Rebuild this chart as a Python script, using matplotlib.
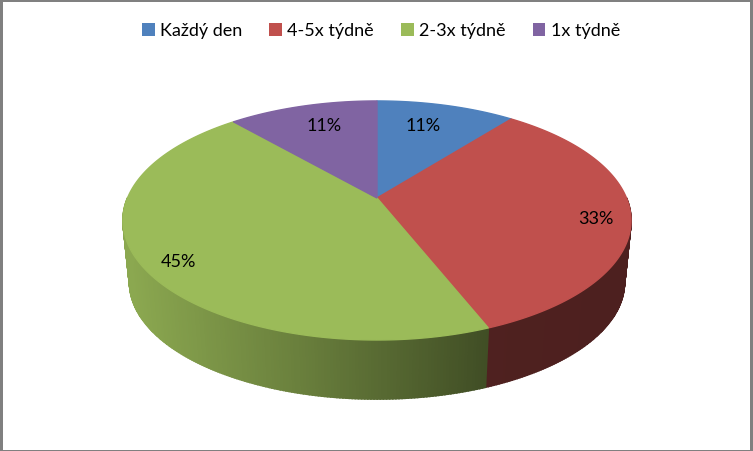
import numpy as np
import matplotlib
matplotlib.use("Agg")
from matplotlib import pyplot as plt
from matplotlib.patches import Rectangle, Patch
from matplotlib.colors import to_rgb

categories = ["Každý den", "4-5x týdně", "2-3x týdně", "1x týdně"]
values = [10.6, 33.4, 44.6, 11.4]
colors = ["#4F81BD", "#C0504D", "#9BBB59", "#8064A2"]
labels = ["11%", "33%", "45%", "11%"]

# fake 3D: unit disc pushed through a small perspective map, in pixel coords
cx, cy = 377.0, 198.0
a, b, c = 249.5, 115.3, 0.188
depth = 62.7
shrink = 0.974


def project(theta, r=1.0, bottom=False):
    x = r * np.sin(theta)
    y = r * np.cos(theta)
    d = 1 + c * y
    px = a * x / d
    py = -b * y / d
    if bottom:
        return cx + shrink * px, cy + shrink * py + depth
    return cx + px, cy + py


def wall_shade(x):
    # light on the left, dark towards the front right
    return np.interp(x, [130, 300, 490, 630], [0.90, 0.68, 0.41, 0.40])


fig = plt.figure(figsize=(7.53, 4.51), dpi=100)
ax = fig.add_axes([0, 0, 1, 1])
ax.set_xlim(0, 753)
ax.set_ylim(451, 0)
ax.axis("off")

fig.patch.set_facecolor("#808080")
ax.add_patch(Rectangle((3, 2), 747.5, 448, facecolor="white", edgecolor="none", zorder=0))

edges = np.cumsum([0] + values) / sum(values) * 2 * np.pi

# side wall first, only the front half is ever seen
for i in range(len(values)):
    th = np.linspace(edges[i], edges[i + 1], int(values[i] * 6) + 2)
    for t0, t1 in zip(th[:-1], th[1:]):
        if np.cos(t0) > 0 and np.cos(t1) > 0:
            continue
        x0, y0 = project(t0)
        x1, y1 = project(t1)
        x2, y2 = project(t1, bottom=True)
        x3, y3 = project(t0, bottom=True)
        col = np.array(to_rgb(colors[i])) * wall_shade((x0 + x1 + x2 + x3) / 4)
        ax.fill([x0, x1, x2, x3], [y0, y1, y2, y3], color=tuple(col), lw=1.2, zorder=1)

for i in range(len(values)):
    th = np.linspace(edges[i], edges[i + 1], 200)
    x, y = project(th)
    ax.fill(np.r_[cx, x], np.r_[cy, y], color=colors[i], lw=1.0, zorder=2)

label_r = [0.737, 0.866, 0.877, 0.747]
label_shift = [-0.045, 0.063, -0.061, 0.03]
for i in range(len(values)):
    mid = (edges[i] + edges[i + 1]) / 2 + label_shift[i]
    x, y = project(mid, label_r[i])
    ax.text(x, y, labels[i], ha="center", va="center", fontsize=13,
            family="Lato", color="black", zorder=3)

handles = [Patch(facecolor=col, edgecolor="none") for col in colors]
ax.legend(handles, categories, loc="center", bbox_to_anchor=(381 / 753, 1 - 31 / 451),
          ncol=4, frameon=False, prop={"family": "Lato", "size": 13},
          handlelength=0.7, handleheight=0.7, handletextpad=0.3, columnspacing=1.5)

plt.savefig("out.png", dpi=100, facecolor=fig.get_facecolor())
